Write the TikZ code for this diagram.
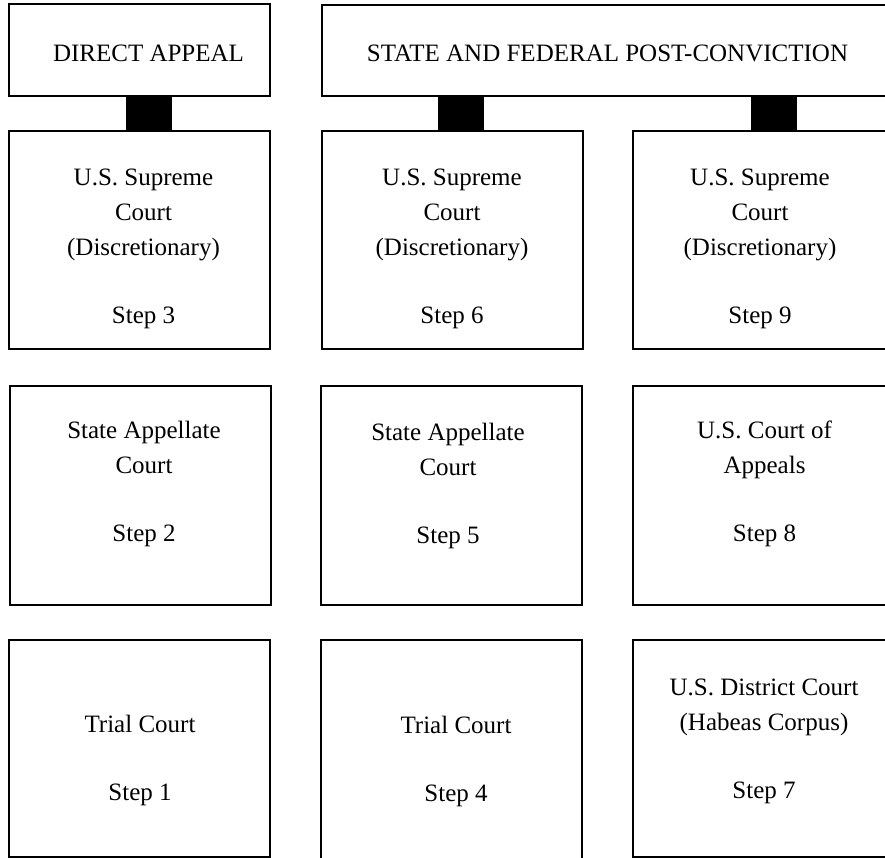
\documentclass[tikz,border=0pt]{standalone}
\usepackage{fontspec}
\setmainfont{Liberation Serif}
\begin{document}
\begin{tikzpicture}[x=1pt,y=-1pt,
  box/.style={draw, line width=2.2pt, inner sep=0pt, rectangle},
  connbar/.style={fill=black, inner sep=0pt, rectangle, minimum width=46pt, minimum height=35pt},
  lbl/.style={anchor=north, inner sep=0pt, align=center, font=\fontsize{25}{35}\selectfont},
]
\useasboundingbox (0,0) rectangle (885,858);
% header boxes
\node[box, minimum width=261pt, minimum height=92pt] (da) at (139.5,50) {};
\node[box, minimum width=566pt, minimum height=91pt] (sf) at (605,50.5) {};
% row 1
\node[box, minimum width=261pt, minimum height=218pt] (s3) at (139.5,240) {};
\node[box, minimum width=261pt, minimum height=218pt] (s6) at (452.5,240) {};
\node[box, minimum width=255pt, minimum height=218pt] (s9) at (760.5,240) {};
% row 2
\node[box, minimum width=261pt, minimum height=219pt] (s2) at (140.5,495.5) {};
\node[box, minimum width=261pt, minimum height=219pt] (s5) at (451.5,495.5) {};
\node[box, minimum width=255pt, minimum height=219pt] (s8) at (760.5,495.5) {};
% row 3
\node[box, minimum width=261pt, minimum height=217pt] (s1) at (139.5,748.5) {};
\node[box, minimum width=261pt, minimum height=224pt] (s4) at (451.5,752) {};
\node[box, minimum width=255pt, minimum height=217pt] (s7) at (760.5,748.5) {};
% connectors
\node[connbar] (c1) at (149,113.5) {};
\node[connbar] (c2) at (461,113.5) {};
\node[connbar] (c3) at (774,113.5) {};
% texts
\node[lbl] (tda) at (148.5,43) {\rule{0pt}{18pt}DIRECT APPEAL};
\node[lbl] (tsf) at (607.5,43) {\rule{0pt}{18pt}STATE AND FEDERAL POST-CONVICTION};
\node[lbl] (t3) at (143.5,167) {\rule{0pt}{18pt}U.S. Supreme\\Court\\(Discretionary)\\[33pt]Step 3};
\node[lbl] (t6) at (452,167) {\rule{0pt}{18pt}U.S. Supreme\\Court\\(Discretionary)\\[33pt]Step 6};
\node[lbl] (t9) at (760,167) {\rule{0pt}{18pt}U.S. Supreme\\Court\\(Discretionary)\\[33pt]Step 9};
\node[lbl] (t2) at (144,420) {\rule{0pt}{18pt}State Appellate\\Court\\[33pt]Step 2};
\node[lbl] (t5) at (448,422) {\rule{0pt}{18pt}State Appellate\\Court\\[33pt]Step 5};
\node[lbl] (t8) at (764.5,420) {\rule{0pt}{18pt}U.S. Court of\\Appeals\\[33pt]Step 8};
\node[lbl] (t1) at (140,714) {\rule{0pt}{18pt}Trial Court\\[33pt]Step 1};
\node[lbl] (t4) at (456,715) {\rule{0pt}{18pt}Trial Court\\[33pt]Step 4};
\node[lbl] (t7) at (764,677) {\rule{0pt}{18pt}U.S. District Court\\(Habeas Corpus)\\[33pt]Step 7};
\end{tikzpicture}
\end{document}
